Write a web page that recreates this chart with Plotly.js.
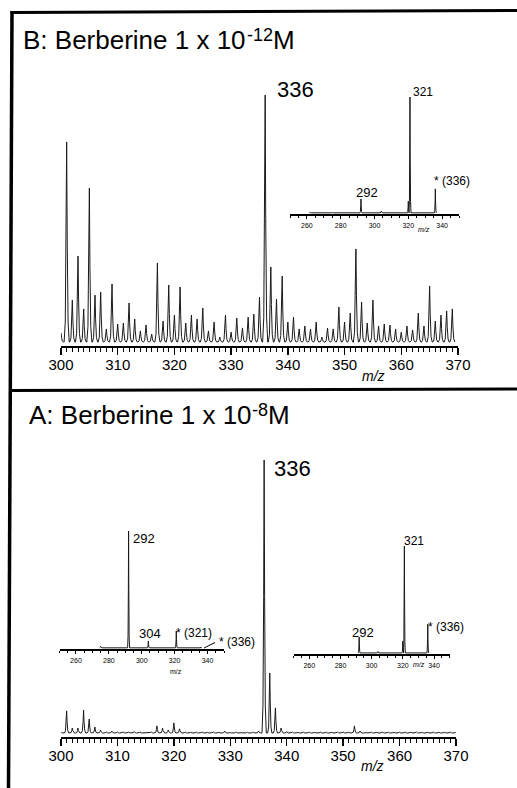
<!DOCTYPE html>
<html>
<head>
<meta charset="utf-8">
<script src="https://cdn.plot.ly/plotly-3.0.1.min.js"></script>
<style>html,body{margin:0;padding:0;background:#fff;}#chart{width:517px;height:788px;}</style>
</head>
<body>
<div id="chart"></div>
<script>
// ---------- DATA ----------
// Panel B main spectrum (1e-12 M), relative intensity %
const bMz = [300,301,302,303,304,305,306,307,308,309,310,311,312,313,314,315,316,317,318,319,320,321,322,323,324,325,326,327,328,329,330,331,332,333,334,335,336,337,338,339,340,341,342,343,344,345,346,347,348,349,350,351,352,353,354,355,356,357,358,359,360,361,362,363,364,365,366,367,368,369];
const bInt = [3.6,81,17,34.8,13.4,62.3,19,20.2,5.3,23.5,7.3,7.7,15.8,9.3,4.5,6.9,3.2,32,8.5,23.1,10.9,22.3,7.7,10.9,9.3,13.8,4.5,8.1,2,10.9,4,9.7,5.7,10.1,11.3,18.2,100,30.4,17.4,26.7,8.1,10.1,5.3,6.5,5.3,8.1,2,5.7,5.3,14.2,8.1,11.7,37.7,16.2,7.7,17,6.5,7.3,6.9,5.3,4,6.5,4.9,11.7,6.5,22.7,8.5,10.9,12.6,13.4];
// Panel B inset (MS/MS of 336)
const bInsMz = [262,275,292,304,320,321,336];
const bInsInt = [0.8,0.8,12,1.5,10,100,20.7];
// Panel A main spectrum (1e-8 M)
const aMz = [300,301,302,303,304,305,306,307,308,309,310,311,312,313,314,315,316,317,318,319,320,321,322,323,324,325,326,327,328,329,330,331,332,333,334,335,336,337,338,339,340,341,342,343,344,345,346,347,348,349,350,351,352,353,354,355,356,357,358,359,360,361,362,363,364,365,366,367,368,369,370];
const aInt = [0.3,8.1,1.8,1.8,8.4,5.1,2.2,1.1,0.4,0.7,0.4,0.4,0.4,0.5,0.4,0.2,0.4,2.6,1.8,1.1,3.7,1.5,0.4,0.3,0.3,0.4,0.3,0.4,0.3,0.7,0.3,0.4,0.3,0.4,0.4,0.7,100,22,9.2,1.8,0.5,0.4,0.3,0.3,0.3,0.3,0.3,0.3,0.3,0.4,0.4,0.3,2.6,0.7,0.3,0.3,0.3,0.3,0.3,0.3,0.3,0.3,0.3,0.4,0.3,0.3,0.3,0.3,0.3,0.3,0.3];
// Panel A left inset (MS3, 336 -> 321)
const aLMz = [275,292,304,321,336];
const aLInt = [1.3,100,5.9,14.4,0.8];
// Panel A right inset (MS/MS of 336)
const aRMz = [292,304,320,321,336];
const aRInt = [14.8,1.3,11,100,26.9];
const insetTicks = [260,280,300,320,340];
const mainTicks = [300,310,320,330,340,350,360,370];

// ---------- helpers ----------
const W = 517, H = 788;
const PX = p => p / W, PY = p => 1 - p / H;
function profile(mz, inten, hw) {
  const off = [-1, -0.55, -0.22, 0, 0.22, 0.55, 1];
  const fac = [0, 0.1, 0.5, 1, 0.5, 0.1, 0];
  const x = [], y = [];
  mz.forEach((m, i) => {
    off.forEach((o, k) => { x.push(m + o * hw); y.push(inten[i] * fac[k]); });
  });
  return {x, y};
}
const lineStyle = {color: '#1a1a1a', width: 1};
const pB = profile(bMz, bInt, 0.45);
const pBi = profile(bInsMz, bInsInt, 0.6);
const pA = profile(aMz, aInt, 0.38);
const pAl = profile(aLMz, aLInt, 0.6);
const pAr = profile(aRMz, aRInt, 0.6);

const traces = [
  {x: pB.x, y: pB.y, xaxis: 'x', yaxis: 'y', mode: 'lines', line: lineStyle, hoverinfo: 'skip'},
  {x: pBi.x, y: pBi.y, xaxis: 'x2', yaxis: 'y2', mode: 'lines', line: lineStyle, hoverinfo: 'skip'},
  {x: pA.x, y: pA.y, xaxis: 'x3', yaxis: 'y3', mode: 'lines', line: lineStyle, hoverinfo: 'skip'},
  {x: pAl.x, y: pAl.y, xaxis: 'x4', yaxis: 'y4', mode: 'lines', line: lineStyle, hoverinfo: 'skip'},
  {x: pAr.x, y: pAr.y, xaxis: 'x5', yaxis: 'y5', mode: 'lines', line: lineStyle, hoverinfo: 'skip'}
];

const FONT = 'Liberation Sans, Arial, sans-serif';
function mainX(dom, anchor) {
  return {domain: dom, anchor: anchor, range: [300, 370], showgrid: false, zeroline: false,
    showline: true, linecolor: '#000', linewidth: 2, ticks: 'outside', ticklen: 7, tickwidth: 1.5, tickcolor: '#000',
    tickmode: 'array', tickvals: mainTicks, ticktext: mainTicks.map(String),
    minor: {dtick: 1, tick0: 300, ticks: 'outside', ticklen: 4, tickwidth: 1, tickcolor: '#000', showgrid: false},
    tickfont: {family: FONT, size: 15, color: '#000'}, ticklabelstandoff: -3, fixedrange: true};
}
function insetX(dom, anchor) {
  return {domain: dom, anchor: anchor, range: [250, 350], showgrid: false, zeroline: false,
    showline: true, linecolor: '#000', linewidth: 1.5, ticks: 'outside', ticklen: 3, tickwidth: 1, tickcolor: '#000',
    tickmode: 'array', tickvals: insetTicks, ticktext: insetTicks.map(String),
    minor: {dtick: 5, tick0: 250, ticks: 'outside', ticklen: 2.5, tickwidth: 1, tickcolor: '#000', showgrid: false},
    tickfont: {family: FONT, size: 7, color: '#000'}, ticklabelstandoff: 1, fixedrange: true};
}
function hiddenY(dom, anchor, lo) {
  return {domain: dom, anchor: anchor, range: [lo, 100], visible: false, fixedrange: true};
}

function ann(text, x, y, size, xanchor, style) {
  return {text: text, x: PX(x), y: PY(y), xref: 'paper', yref: 'paper',
    xanchor: xanchor || 'left', yanchor: 'middle', showarrow: false, borderpad: 0,
    font: {family: FONT, size: size, color: '#000', style: style || 'normal'}};
}

const annotations = [
  // panel titles (superscript drawn as its own smaller text)
  ann('B: Berberine 1 x 10', 22, 40, 26),
  ann('-12', 245.5, 35, 18),
  ann('M', 271.5, 40, 26),
  ann('A: Berberine 1 x 10', 28, 415, 26),
  ann('-8', 251, 410, 18),
  ann('M', 267, 415, 26),
  ann('336', 276, 89, 22),
  ann('336', 273, 468, 22),
  ann('m/z', 373, 376, 14, 'center', 'italic'),
  ann('m/z', 372, 766, 14, 'center', 'italic'),
  ann('321', 412, 92, 12),
  ann('292', 366.5, 192.5, 13, 'center'),
  ann('* (336)', 433, 181, 12),
  ann('m/z', 424, 230, 7, 'center', 'italic'),
  ann('292', 132, 538, 13),
  ann('304', 149.5, 633, 13, 'center'),
  ann('* (321)', 175, 633, 12),
  ann('* (336)', 218, 642, 12),
  ann('m/z', 176, 671, 7, 'center'),
  ann('321', 403, 541, 12),
  ann('292', 363, 632, 13, 'center'),
  ann('* (336)', 427, 627, 12),
  ann('m/z', 419, 664, 7, 'center', 'italic')
];

function ln(x0, y0, x1, y1, w) {
  return {type: 'line', xref: 'paper', yref: 'paper', x0: PX(x0), y0: PY(y0), x1: PX(x1), y1: PY(y1),
    line: {color: '#000', width: w}};
}
const shapes = [
  ln(10.5, 12.5, 517, 10.5, 3),
  ln(12, 11, 8.5, 788, 3.5),
  ln(10, 390.5, 517, 389, 3),
  ln(204, 648, 215, 642.5, 1)
];

const layout = {
  width: W, height: H, margin: {l: 0, r: 0, t: 0, b: 0},
  paper_bgcolor: '#fff', plot_bgcolor: 'rgba(0,0,0,0)', showlegend: false,
  font: {family: FONT, color: '#000'},
  xaxis: mainX([PX(61), PX(458)], 'y'),
  yaxis: hiddenY([PY(346), PY(95)], 'x', -1.6),
  xaxis2: insetX([PX(290), PX(459)], 'y2'),
  yaxis2: hiddenY([PY(214), PY(97)], 'x2', -1),
  xaxis3: mainX([PX(61), PX(456)], 'y3'),
  yaxis3: hiddenY([PY(737), PY(460)], 'x3', -1.47),
  xaxis4: insetX([PX(59.5), PX(224)], 'y4'),
  yaxis4: hiddenY([PY(649), PY(531)], 'x4', -1),
  xaxis5: insetX([PX(293.7), PX(449.6)], 'y5'),
  yaxis5: hiddenY([PY(654), PY(546)], 'x5', -1),
  annotations: annotations,
  shapes: shapes
};

Plotly.newPlot('chart', traces, layout, {staticPlot: true, displayModeBar: false});
</script>
</body>
</html>
